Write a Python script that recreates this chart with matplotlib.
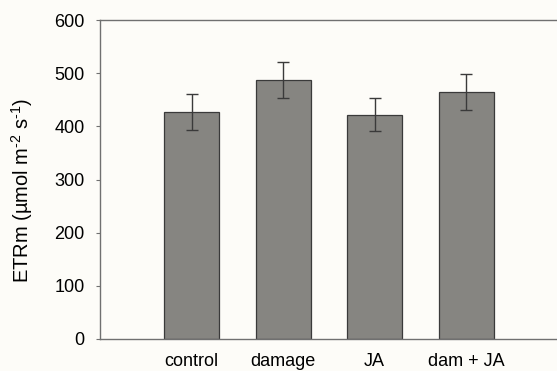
import numpy as np
import matplotlib.pyplot as plt

plt.rcParams['font.family'] = ['Liberation Sans', 'DejaVu Sans']
plt.rcParams['mathtext.fontset'] = 'custom'
plt.rcParams['mathtext.rm'] = 'Liberation Sans'
plt.rcParams['mathtext.it'] = 'Liberation Sans'

# ETRm per treatment (mean +/- SE)
treatments = ['control', 'damage', 'JA', 'dam + JA']
etrm = [427, 487, 422, 464]
etrm_se = [33, 34, 31, 34]

bg = '#fdfcf8'
fig = plt.figure(figsize=(5.57, 3.71), dpi=100, facecolor=bg)
ax = fig.add_axes([0.1795, 0.0863, 0.822, 0.8597], facecolor=bg)

x = np.arange(1, len(treatments) + 1)
ax.bar(x, etrm, width=0.6, color='#868581', edgecolor='#3a3a3a', linewidth=0.9, zorder=2)
ax.errorbar(x, etrm, yerr=etrm_se, fmt='none', ecolor='#3a3a3a', elinewidth=1.0,
            capsize=4, capthick=1.0, zorder=3)

ax.set_xlim(0, 5)
ax.set_ylim(0, 600)
ax.set_yticks(range(0, 601, 100))
ax.set_xticks(x)
ax.set_xticklabels(treatments)

ax.spines['right'].set_visible(False)
for side in ['left', 'bottom', 'top']:
    ax.spines[side].set_color('#707070')
    ax.spines[side].set_linewidth(1.0)

ax.tick_params(axis='y', direction='out', length=3, color='#707070', labelsize=13, pad=8)
ax.tick_params(axis='x', length=0, labelsize=13, pad=10)
# plain hyphen in the exponents instead of the mathtext minus
ax.set_ylabel('ETRm (µmol m$^{\u2010\\mathrm{2}}$ s$^{\u2010\\mathrm{1}}$)', fontsize=14.5)
ax.yaxis.set_label_coords(-0.142, 0.467)

fig.savefig('out.png', dpi=100, facecolor=bg)
